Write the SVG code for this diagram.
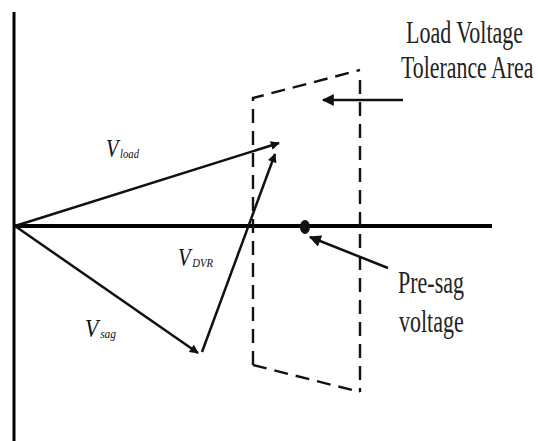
<svg xmlns="http://www.w3.org/2000/svg" width="538" height="441" viewBox="0 0 538 441">
<style>
.ax{stroke:#000;fill:none}
.vec{stroke:#111;fill:none;stroke-width:2.5}
.dash{stroke:#111;fill:none;stroke-width:2.4;stroke-dasharray:14 8}
.lbl{font-family:"Liberation Serif",serif;fill:#222;font-size:31px}
.v{font-family:"Liberation Serif",serif;font-style:italic;fill:#111;font-size:25px}
.sub{font-size:13px}
</style>
<defs>
<marker id="ah" viewBox="0 0 10 10" refX="9" refY="5" markerWidth="11" markerHeight="9" markerUnits="userSpaceOnUse" orient="auto">
<path d="M0,0 L10,5 L0,10 Z" fill="#111"/>
</marker>
<marker id="ah2" viewBox="0 0 10 10" refX="9" refY="5" markerWidth="13" markerHeight="12" markerUnits="userSpaceOnUse" orient="auto">
<path d="M0,0 L10,5 L0,10 Z" fill="#111"/>
</marker>
</defs>
<rect width="538" height="441" fill="#fff"/>
<g id="axes">
<line class="ax" x1="14" y1="12" x2="14" y2="441" stroke-width="3"/>
<line class="ax" x1="14" y1="226" x2="492" y2="226" stroke-width="4"/>
</g>
<g id="tolerance-area">
<path class="dash" d="M253,365 L253,98 L360,70"/>
<path class="dash" d="M360,80 L360,392 M253,365 L360,392"/>
</g>
<g id="connectors">
<line class="vec" x1="15" y1="226" x2="279" y2="143" marker-end="url(#ah)"/>
<line class="vec" x1="15" y1="226" x2="198" y2="353" marker-end="url(#ah)"/>
<line class="vec" x1="202" y1="352" x2="275" y2="154" stroke-width="1.6" marker-end="url(#ah)"/>
<line class="vec" x1="403" y1="100" x2="323" y2="100" stroke-width="4" marker-end="url(#ah2)"/>
<line class="vec" x1="388" y1="268" x2="310" y2="237" stroke-width="3" marker-end="url(#ah2)"/>
</g>
<g id="presag-point">
<ellipse cx="305" cy="227" rx="5" ry="7" fill="#111"/>
</g>
<g id="labels">
<text class="v" x="106" y="157" textLength="33" lengthAdjust="spacingAndGlyphs">V<tspan class="sub" dx="2" dy="1">load</tspan></text>
<text class="v" x="178" y="266" textLength="35" lengthAdjust="spacingAndGlyphs">V<tspan class="sub" dx="2" dy="1">DVR</tspan></text>
<text class="v" x="85" y="337" textLength="31" lengthAdjust="spacingAndGlyphs">V<tspan class="sub" dx="2" dy="1">sag</tspan></text>
<text class="lbl" transform="translate(406,43) scale(0.71,1)">Load Voltage</text>
<text class="lbl" transform="translate(401,78) scale(0.705,1)">Tolerance Area</text>
<text class="lbl" transform="translate(398,293) scale(0.71,1)">Pre-sag</text>
<text class="lbl" transform="translate(399,332) scale(0.71,1)">voltage</text>
</g>
</svg>
